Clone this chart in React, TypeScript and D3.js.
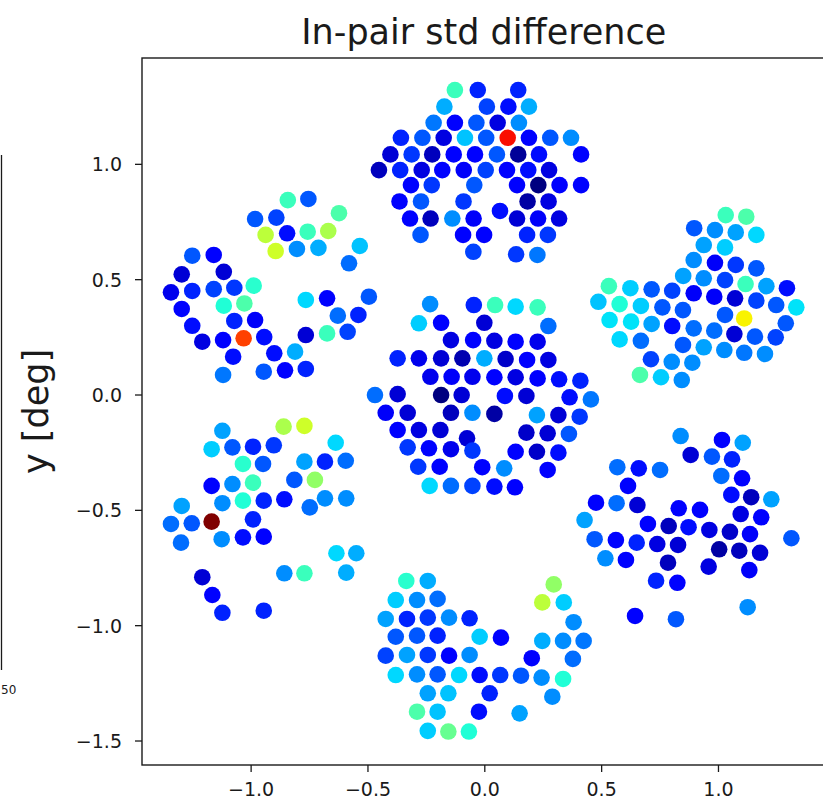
import React from "react";
import * as d3 from "d3";

// [x deg, y deg, std difference value (colour scale 0..1, jet colormap)]
const topWafer: [number, number, number][] = [
  [-0.128, 1.322, 0.45], [-0.03, 1.322, 0.2], [0.143, 1.322, 0.2],
  [-0.173, 1.25, 0.33], [0.009, 1.25, 0.23], [0.101, 1.25, 0.18], [0.189, 1.25, 0.33],
  [-0.219, 1.18, 0.28], [-0.128, 1.18, 0.17], [-0.036, 1.18, 0.25], [0.055, 1.18, 0.13], [0.146, 1.18, 0.3],
  [-0.359, 1.115, 0.2], [-0.267, 1.115, 0.25], [-0.176, 1.115, 0.13], [-0.085, 1.115, 0.35], [0.006, 1.115, 0.25],
  [0.098, 1.115, 0.9], [0.189, 1.115, 0.17], [0.28, 1.115, 0.25], [0.369, 1.115, 0.3],
  [-0.404, 1.043, 0.12], [-0.313, 1.043, 0.22], [-0.225, 1.043, 0.1], [-0.133, 1.043, 0.17], [-0.042, 1.043, 0.17],
  [0.052, 1.043, 0.25], [0.143, 1.043, 0.07], [0.232, 1.043, 0.18], [0.412, 1.043, 0.17],
  [-0.453, 0.975, 0.1], [-0.362, 0.975, 0.2], [-0.27, 0.975, 0.13], [-0.182, 0.975, 0.17], [-0.09, 0.975, 0.15],
  [0.004, 0.975, 0.23], [0.095, 0.975, 0.17], [0.186, 0.975, 0.18], [0.275, 0.975, 0.13],
  [-0.316, 0.91, 0.17], [-0.227, 0.91, 0.22], [-0.045, 0.91, 0.25], [0.138, 0.91, 0.17], [0.229, 0.91, 0.05],
  [0.32, 0.91, 0.17], [0.412, 0.91, 0.17],
  [-0.365, 0.839, 0.17], [-0.273, 0.839, 0.25], [-0.091, 0.839, 0.22], [0.183, 0.839, 0.08], [0.273, 0.839, 0.13],
  [0.065, 0.798, 0.18],
  [-0.32, 0.765, 0.17], [-0.232, 0.765, 0.1], [-0.139, 0.765, 0.3], [-0.048, 0.765, 0.15], [0.138, 0.765, 0.12],
  [0.228, 0.765, 0.15], [0.318, 0.765, 0.13],
  [-0.275, 0.694, 0.25], [-0.093, 0.694, 0.17], [-0.003, 0.694, 0.17], [0.181, 0.694, 0.2], [0.27, 0.694, 0.22],
  [-0.049, 0.621, 0.23], [0.134, 0.61, 0.22], [0.225, 0.607, 0.28],
];

const upperLeftWafer: [number, number, number][] = [
  [-0.843, 0.845, 0.45], [-0.755, 0.85, 0.25], [-0.624, 0.788, 0.47], [-0.983, 0.763, 0.25], [-0.892, 0.769, 0.23],
  [-0.938, 0.694, 0.6], [-0.846, 0.701, 0.18], [-0.758, 0.708, 0.45], [-0.67, 0.711, 0.58],
  [-0.895, 0.624, 0.62], [-0.804, 0.633, 0.3], [-0.712, 0.638, 0.33], [-0.535, 0.646, 0.35], [-0.581, 0.571, 0.27],
  [-1.252, 0.604, 0.25], [-1.16, 0.607, 0.17], [-1.297, 0.523, 0.12], [-1.117, 0.534, 0.12],
  [-1.343, 0.445, 0.14], [-1.252, 0.451, 0.2], [-1.16, 0.459, 0.23], [-1.072, 0.465, 0.22], [-0.989, 0.474, 0.43],
  [-1.297, 0.373, 0.17], [-1.117, 0.387, 0.42], [-1.029, 0.397, 0.47], [-0.766, 0.412, 0.37], [-0.675, 0.419, 0.17],
  [-0.496, 0.426, 0.25],
  [-1.252, 0.3, 0.18], [-1.072, 0.321, 0.2], [-0.983, 0.325, 0.15], [-0.629, 0.344, 0.27], [-0.541, 0.347, 0.2],
  [-1.209, 0.231, 0.13], [-1.12, 0.238, 0.17], [-1.032, 0.246, 0.85], [-0.944, 0.251, 0.18], [-0.766, 0.26, 0.12],
  [-0.675, 0.267, 0.45], [-0.587, 0.274, 0.23],
  [-1.077, 0.166, 0.18], [-0.901, 0.181, 0.18], [-0.812, 0.188, 0.33],
  [-1.12, 0.087, 0.28], [-0.946, 0.101, 0.25], [-0.855, 0.107, 0.17], [-0.766, 0.113, 0.2],
];

const centerWafer: [number, number, number][] = [
  [-0.234, 0.394, 0.3], [-0.047, 0.39, 0.2], [0.044, 0.39, 0.45], [0.132, 0.383, 0.37], [0.226, 0.38, 0.45],
  [-0.282, 0.311, 0.36], [-0.187, 0.313, 0.17], [-0.002, 0.313, 0.12], [0.272, 0.299, 0.27],
  [-0.145, 0.238, 0.13], [-0.05, 0.238, 0.17], [0.041, 0.235, 0.13], [0.132, 0.231, 0.17], [0.226, 0.231, 0.14],
  [-0.373, 0.159, 0.2], [-0.282, 0.159, 0.14], [-0.187, 0.159, 0.12], [-0.096, 0.159, 0.09], [-0.002, 0.159, 0.33],
  [0.089, 0.156, 0.11], [0.181, 0.152, 0.17], [0.272, 0.152, 0.13],
  [-0.233, 0.079, 0.14], [-0.142, 0.079, 0.15], [-0.053, 0.079, 0.14], [0.041, 0.077, 0.17], [0.132, 0.077, 0.13],
  [0.226, 0.072, 0.16], [0.318, 0.068, 0.18], [0.409, 0.062, 0.2],
  [-0.47, 0.0, 0.27], [-0.373, 0.004, 0.12], [-0.187, 0.0, 0.03], [-0.099, 0.0, 0.12], [0.086, -0.004, 0.18],
  [0.178, -0.004, 0.12], [0.363, -0.01, 0.18], [0.454, -0.019, 0.28],
  [-0.424, -0.077, 0.15], [-0.33, -0.077, 0.12], [-0.145, -0.077, 0.1], [-0.053, -0.077, 0.3], [0.041, -0.082, 0.08],
  [0.223, -0.087, 0.32], [0.315, -0.087, 0.12], [0.406, -0.094, 0.22],
  [-0.373, -0.152, 0.17], [-0.282, -0.152, 0.13], [-0.19, -0.152, 0.12], [-0.076, -0.188, 0.12],
  [0.178, -0.163, 0.11], [0.269, -0.166, 0.12], [0.36, -0.169, 0.25],
  [-0.33, -0.227, 0.22], [-0.239, -0.231, 0.17], [-0.145, -0.235, 0.14], [-0.053, -0.241, 0.22],
  [0.132, -0.246, 0.17], [0.223, -0.246, 0.11], [0.315, -0.25, 0.18],
  [-0.285, -0.311, 0.22], [-0.193, -0.311, 0.17], [-0.011, -0.313, 0.17], [0.083, -0.318, 0.3], [0.269, -0.325, 0.17],
  [-0.236, -0.394, 0.37], [-0.145, -0.394, 0.27], [-0.053, -0.394, 0.23], [0.041, -0.397, 0.18], [0.129, -0.4, 0.17],
];

const rightWafer: [number, number, number][] = [
  [1.031, 0.78, 0.45], [1.119, 0.773, 0.47],
  [0.896, 0.723, 0.25], [0.985, 0.715, 0.3], [1.074, 0.705, 0.32], [1.162, 0.694, 0.37],
  [0.937, 0.65, 0.32], [1.028, 0.64, 0.36],
  [0.894, 0.585, 0.3], [0.985, 0.573, 0.15], [1.074, 0.564, 0.22], [1.162, 0.549, 0.25],
  [0.849, 0.516, 0.32], [0.937, 0.506, 0.3], [1.028, 0.498, 0.23], [1.116, 0.481, 0.45], [1.205, 0.472, 0.32],
  [1.293, 0.463, 0.18],
  [0.531, 0.472, 0.45], [0.623, 0.463, 0.36], [0.714, 0.458, 0.25], [0.802, 0.452, 0.23], [0.894, 0.441, 0.15],
  [0.982, 0.426, 0.15], [1.071, 0.419, 0.12], [1.162, 0.409, 0.23], [1.247, 0.39, 0.25], [1.333, 0.38, 0.38],
  [0.486, 0.404, 0.35], [0.577, 0.394, 0.42], [0.668, 0.386, 0.36], [0.76, 0.38, 0.25], [0.848, 0.368, 0.25],
  [1.028, 0.347, 0.25], [1.11, 0.332, 0.67], [1.288, 0.311, 0.25],
  [0.534, 0.325, 0.38], [0.626, 0.318, 0.38], [0.714, 0.308, 0.32], [0.802, 0.299, 0.18], [0.894, 0.289, 0.27],
  [0.982, 0.279, 0.27], [1.068, 0.264, 0.12], [1.156, 0.253, 0.25], [1.245, 0.25, 0.23],
  [0.577, 0.241, 0.37], [0.668, 0.235, 0.27], [0.848, 0.217, 0.25], [0.937, 0.207, 0.32], [1.025, 0.195, 0.3],
  [1.11, 0.183, 0.28], [1.199, 0.178, 0.3],
  [0.711, 0.155, 0.23], [0.8, 0.144, 0.3], [0.888, 0.14, 0.3],
  [0.664, 0.087, 0.47], [0.754, 0.077, 0.36], [0.843, 0.065, 0.3],
];

const lowerLeftWafer: [number, number, number][] = [
  [-0.861, -0.137, 0.58], [-0.772, -0.134, 0.62], [-1.123, -0.155, 0.32], [-0.638, -0.207, 0.37],
  [-1.169, -0.235, 0.36], [-1.08, -0.227, 0.25], [-0.992, -0.224, 0.2], [-0.903, -0.218, 0.22],
  [-1.035, -0.299, 0.43], [-0.949, -0.299, 0.25], [-0.772, -0.289, 0.32], [-0.684, -0.289, 0.2], [-0.595, -0.285, 0.27],
  [-1.169, -0.394, 0.17], [-1.08, -0.386, 0.3], [-0.992, -0.38, 0.45], [-0.815, -0.368, 0.25], [-0.727, -0.368, 0.55],
  [-1.297, -0.481, 0.32], [-1.123, -0.469, 0.3], [-1.035, -0.458, 0.42], [-0.946, -0.458, 0.2], [-0.858, -0.452, 0.18],
  [-0.749, -0.487, 0.27], [-0.684, -0.448, 0.3], [-0.593, -0.448, 0.3],
  [-1.343, -0.559, 0.27], [-1.254, -0.556, 0.25], [-1.169, -0.549, 1.0], [-0.992, -0.539, 0.2],
  [-1.3, -0.64, 0.27], [-1.126, -0.625, 0.3], [-1.035, -0.617, 0.18], [-0.946, -0.614, 0.17],
  [-0.635, -0.686, 0.37], [-0.55, -0.686, 0.33], [-0.593, -0.77, 0.33], [-0.858, -0.773, 0.3], [-0.772, -0.773, 0.45],
  [-1.209, -0.79, 0.12], [-1.166, -0.867, 0.17], [-1.123, -0.944, 0.2], [-0.946, -0.935, 0.2],
];

const lowerRightWafer: [number, number, number][] = [
  [0.838, -0.178, 0.3], [1.015, -0.195, 0.17], [1.104, -0.207, 0.32],
  [0.881, -0.26, 0.12], [0.972, -0.267, 0.25], [1.058, -0.279, 0.2],
  [0.567, -0.313, 0.27], [0.659, -0.318, 0.18], [0.75, -0.325, 0.27], [1.012, -0.351, 0.27], [1.101, -0.361, 0.17],
  [0.613, -0.394, 0.17], [1.055, -0.433, 0.18], [1.14, -0.443, 0.1], [1.226, -0.452, 0.32],
  [0.476, -0.467, 0.17], [0.564, -0.469, 0.27], [0.653, -0.477, 0.12], [0.83, -0.491, 0.17], [0.921, -0.498, 0.16],
  [1.095, -0.516, 0.13], [1.183, -0.53, 0.17],
  [0.427, -0.542, 0.32], [0.698, -0.559, 0.17], [0.787, -0.568, 0.1], [0.872, -0.573, 0.18], [0.961, -0.585, 0.13],
  [1.049, -0.593, 0.11], [1.135, -0.603, 0.15], [1.312, -0.621, 0.25],
  [0.47, -0.625, 0.25], [0.561, -0.629, 0.17], [0.65, -0.64, 0.2], [0.738, -0.646, 0.13], [0.827, -0.65, 0.12],
  [1.003, -0.669, 0.08], [1.089, -0.675, 0.1], [1.178, -0.684, 0.12],
  [0.516, -0.708, 0.3], [0.604, -0.715, 0.17], [0.784, -0.727, 0.1], [0.958, -0.744, 0.13], [1.132, -0.759, 0.15],
  [0.733, -0.805, 0.2], [0.824, -0.814, 0.17], [1.125, -0.92, 0.3], [0.643, -0.958, 0.17], [0.818, -0.972, 0.25],
];

const bottomWafer: [number, number, number][] = [
  [-0.336, -0.806, 0.43], [-0.244, -0.806, 0.33], [0.295, -0.821, 0.55],
  [-0.381, -0.889, 0.36], [-0.29, -0.889, 0.3], [-0.202, -0.884, 0.27], [0.246, -0.899, 0.6], [0.338, -0.899, 0.36],
  [-0.424, -0.971, 0.32], [-0.333, -0.971, 0.2], [-0.244, -0.965, 0.22], [-0.153, -0.965, 0.3], [-0.065, -0.968, 0.2],
  [0.38, -0.985, 0.3],
  [-0.381, -1.048, 0.25], [-0.29, -1.043, 0.25], [-0.202, -1.043, 0.2], [-0.022, -1.048, 0.36], [0.069, -1.052, 0.17],
  [0.246, -1.066, 0.33], [0.335, -1.066, 0.3], [0.423, -1.066, 0.28],
  [-0.424, -1.13, 0.23], [-0.333, -1.127, 0.32], [-0.244, -1.127, 0.22], [-0.153, -1.13, 0.17], [-0.065, -1.127, 0.3],
  [0.201, -1.141, 0.17], [0.377, -1.144, 0.27],
  [-0.381, -1.214, 0.37], [-0.29, -1.211, 0.3], [-0.202, -1.211, 0.25], [-0.11, -1.214, 0.37], [-0.022, -1.214, 0.18],
  [0.066, -1.214, 0.22], [0.155, -1.217, 0.25], [0.243, -1.225, 0.3], [0.335, -1.231, 0.42],
  [-0.244, -1.293, 0.32], [-0.156, -1.293, 0.35], [0.021, -1.293, 0.2], [0.289, -1.308, 0.3],
  [-0.29, -1.373, 0.47], [-0.202, -1.373, 0.35], [-0.025, -1.373, 0.18], [0.149, -1.38, 0.32],
  [-0.244, -1.456, 0.36], [-0.156, -1.459, 0.5], [-0.068, -1.459, 0.42],
];

const xTicks = [-1.0, -0.5, 0.0, 0.5, 1.0];
const yTicks = [1.0, 0.5, 0.0, -0.5, -1.0, -1.5];
const xDomain: [number, number] = [-1.467, 1.467];
const yDomain: [number, number] = [-1.604, 1.461];
const colorDomain: [number, number] = [0.05, 1.0];
const sidePanelLabel = "50";

function piece(v: number, pts: [number, number][]): number {
  if (v <= pts[0][0]) return pts[0][1];
  for (let i = 1; i < pts.length; i++) {
    if (v <= pts[i][0]) {
      const [x0, y0] = pts[i - 1];
      const [x1, y1] = pts[i];
      return y0 + ((v - x0) / (x1 - x0)) * (y1 - y0);
    }
  }
  return pts[pts.length - 1][1];
}

function jet(v: number): string {
  const r = piece(v, [[0, 0], [0.35, 0], [0.66, 1], [0.89, 1], [1, 0.5]]);
  const g = piece(v, [[0, 0], [0.125, 0], [0.375, 1], [0.64, 1], [0.91, 0], [1, 0]]);
  const b = piece(v, [[0, 0.5], [0.11, 1], [0.34, 1], [0.65, 0], [1, 0]]);
  return d3.rgb(r * 255, g * 255, b * 255).formatHex();
}

const fmt = (t: number) => (t < 0 ? "\u2212" : "") + Math.abs(t).toFixed(1);

export default function App() {
  const W = 823;
  const H = 801;
  const left = 142, top = 58, bottom = 765, right = 827.6;
  const x = d3.scaleLinear().domain(xDomain).range([left, right]);
  const y = d3.scaleLinear().domain(yDomain).range([bottom, top]);
  const norm = d3.scaleLinear().domain(colorDomain).range([0, 1]).clamp(true);
  const all = [
    ...topWafer, ...upperLeftWafer, ...centerWafer, ...rightWafer,
    ...lowerLeftWafer, ...lowerRightWafer, ...bottomWafer,
  ];
  const font = "DejaVu Sans, sans-serif";
  const ink = "#1a1a1a";
  return (
    <svg width={W} height={H} style={{ position: "absolute", left: 0, top: 0, background: "#fff" }}
      fontFamily={font}>
      <defs>
        <clipPath id="plotclip">
          <rect x={left} y={top} width={right - left} height={bottom - top} />
        </clipPath>
      </defs>
      <rect x={0} y={0} width={W} height={H} fill="#fff" />
      {/* remnant of neighbouring panel */}
      <line x1={1.5} x2={1.5} y1={155} y2={670} stroke={ink} strokeWidth={1.3} />
      <text x={1} y={694} fontSize={12} fill={ink}>{sidePanelLabel}</text>

      <text x={(left + right) / 2 - 1} y={44} textAnchor="middle" fontSize={35} fill={ink}>
        In-pair std difference
      </text>
      <text transform={`translate(48,${(top + bottom) / 2}) rotate(-90)`} textAnchor="middle"
        fontSize={35} fill={ink}>y [deg]</text>

      <g clipPath="url(#plotclip)">
        {all.map((d, i) => (
          <circle key={i} cx={x(d[0])} cy={y(d[1])} r={8.3} fill={jet(norm(d[2]))} />
        ))}
      </g>

      <rect x={left} y={top} width={right - left} height={bottom - top} fill="none" stroke={ink} strokeWidth={1.4} />

      {xTicks.map((t) => (
        <g key={"x" + t}>
          <line x1={x(t)} x2={x(t)} y1={bottom} y2={bottom + 7} stroke={ink} strokeWidth={1.3} />
          <text x={x(t)} y={796} textAnchor="middle" fontSize={19} fill={ink}>{fmt(t)}</text>
        </g>
      ))}
      {yTicks.map((t) => (
        <g key={"y" + t}>
          <line x1={left - 7} x2={left} y1={y(t)} y2={y(t)} stroke={ink} strokeWidth={1.3} />
          <text x={left - 20} y={y(t) + 7} textAnchor="end" fontSize={19} fill={ink}>{fmt(t)}</text>
        </g>
      ))}
    </svg>
  );
}
